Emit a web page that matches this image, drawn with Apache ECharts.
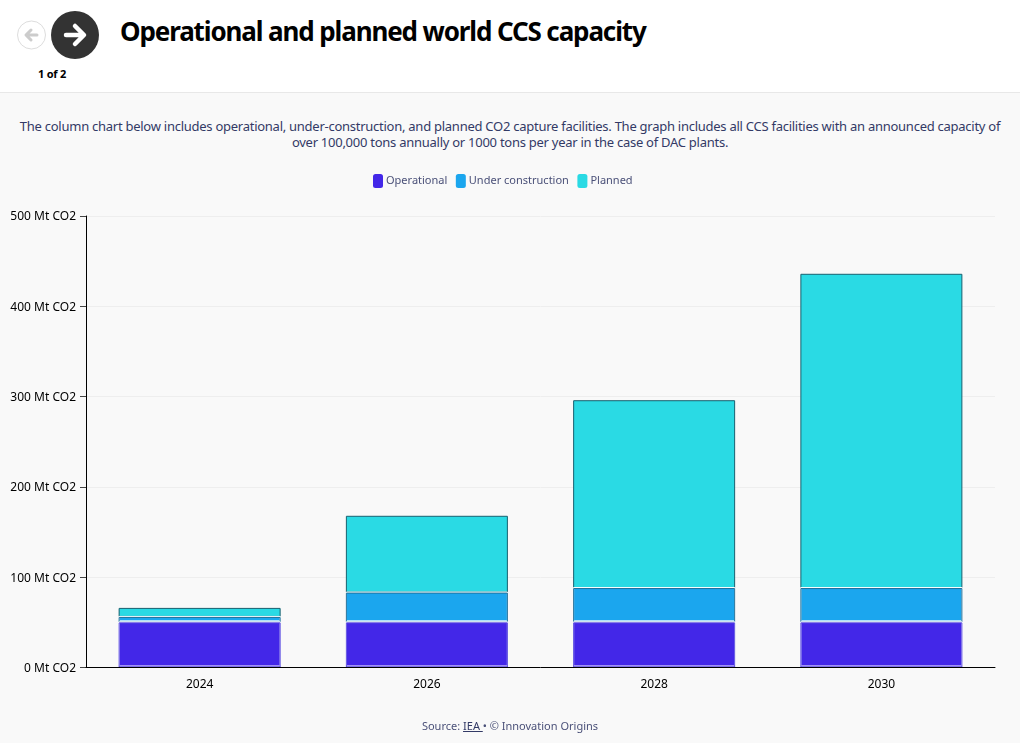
<!DOCTYPE html>
<html><head><meta charset="utf-8">
<script src="https://cdn.jsdelivr.net/npm/echarts@6/dist/echarts.min.js"></script>
<style>
html,body{margin:0;padding:0;width:1020px;height:743px;overflow:hidden;background:#f9f9f9;font-family:"Noto Sans",sans-serif;}
#head{position:absolute;left:0;top:0;width:1020px;height:92px;background:#fff;border-bottom:1px solid #e8e8e8;}
#title{position:absolute;left:120px;top:12px;font-size:26px;font-weight:700;color:#000;white-space:nowrap;line-height:38px;letter-spacing:-1.12px;}
#count{position:absolute;left:27px;top:66px;width:50px;text-align:center;font-size:11px;font-weight:700;color:#000;letter-spacing:-0.2px;}
#desc{position:absolute;left:10px;width:1000px;top:118px;text-align:center;font-size:13px;line-height:16px;color:#333a66;letter-spacing:-0.26px;}
#src{position:absolute;left:0;width:1020px;top:718px;text-align:center;font-size:11px;color:#4a5078;}
#src u{color:#333a66;}
#chart{position:absolute;left:0;top:160px;width:1020px;height:560px;}
svg{position:absolute;left:0;top:0;}
</style></head><body>
<div id="head">
<svg width="110" height="70">
<circle cx="31.5" cy="35" r="14" fill="#fff" stroke="#ddd" stroke-width="1"/>
<path d="M37 35H27M31 30l-5 5 5 5" fill="none" stroke="#ccc" stroke-width="3" stroke-linecap="round" stroke-linejoin="round"/>
<circle cx="75" cy="35" r="24" fill="#333"/>
<path d="M66 35H83M75 26l9 9-9 9" fill="none" stroke="#fff" stroke-width="4.5" stroke-linecap="round" stroke-linejoin="round"/>
</svg>
<div id="count">1 of 2</div>
<div id="title">Operational and planned world CCS capacity</div>
</div>
<div id="desc">The column chart below includes operational, under-construction, and planned CO2 capture facilities. The graph includes all CCS facilities with an announced capacity of<br>over 100,000 tons annually or 1000 tons per year in the case of DAC plants.</div>
<div id="chart"></div>
<div id="src">Source: <u>IEA </u> • © Innovation Origins</div>
<script>
const years = ['2024','2026','2028','2030'];
const operational = [50, 50, 50, 50];
const underConstruction = [6, 33, 38, 38];
const planned = [10, 85, 208, 348];
const yTicks = {min:0, max:500, interval:100, unit:' Mt CO2'};
const colors = ['#4327e8','#1ba6ee','#2adae4'];
const strokes = ['#5a4ce0','#1d6f9a','#17606f'];
const names = ['Operational','Under construction','Planned'];
const values = [operational, underConstruction, planned];
const chart = echarts.init(document.getElementById('chart'), null, {renderer:'canvas'});
chart.setOption({
  animation:false,
  textStyle:{fontFamily:'"Noto Sans",sans-serif'},
  legend:{
    left:373, top:14, padding:0, icon:'roundRect', itemWidth:10, itemHeight:14, itemGap:8.5,
    itemStyle:{borderWidth:0},
    textStyle:{fontSize:11,color:'#4a5078',padding:[0,0,0,-2]},
    data:names, selectedMode:false
  },
  grid:{left:86,right:25,top:56,bottom:52.5,containLabel:false},
  xAxis:{type:'category',data:years,z:10,
    axisLine:{lineStyle:{color:'#000',width:1}},
    axisTick:{alignWithLabel:true,length:7,lineStyle:{color:'#666'}},
    axisLabel:{fontSize:12,color:'#000',margin:11}},
  yAxis:{type:'value',min:yTicks.min,max:yTicks.max,interval:yTicks.interval,
    axisLine:{show:true,lineStyle:{color:'#000',width:1}},
    axisTick:{show:true,length:6,inside:false,lineStyle:{color:'#444'}},
    axisLabel:{fontSize:12,color:'#000',margin:10,verticalAlign:'top',lineHeight:12,padding:[-5,0,0,0],formatter:v=>v+yTicks.unit},
    splitLine:{lineStyle:{color:'#eeeeee',width:1}}},
  series:names.map((n,i)=>({
    name:n,type:'bar',stack:'t',barWidth:162,data:values[i],z:5-i,
    itemStyle:{color:colors[i],borderColor:strokes[i],borderWidth:1,
      shadowColor:'#ffffff',shadowBlur:0,shadowOffsetY:i==2?0:-1}
  }))
});
</script>
</body></html>
